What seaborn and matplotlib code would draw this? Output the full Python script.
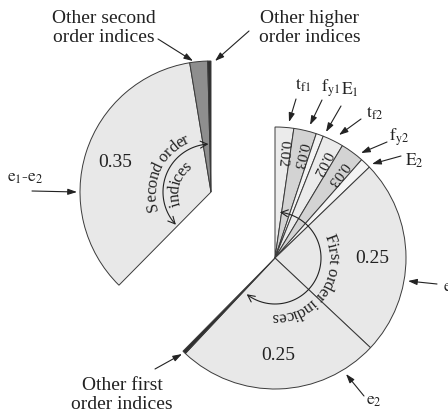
import numpy as np
import matplotlib
matplotlib.use('Agg')
import matplotlib.pyplot as plt
from matplotlib.patches import FancyArrowPatch
from matplotlib.path import Path
from matplotlib.font_manager import FontProperties, findfont
from matplotlib.ft2font import FT2Font
import seaborn as sns

# first order indices, clockwise from 12 o'clock (right pie)
first_names = ['t_f1', 'f_y1', 'E1', 't_f2', 'f_y2', 'E2', 'e1', 'e2', 'other first']
first_values = [0.023, 0.028, 0.009, 0.026, 0.029, 0.013, 0.242, 0.25, 0.004]
first_labels = ['0.02', '0.03', '', '0.02', '0.03', '', '0.25', '0.25', '']
first_colors = ['#ebebeb', '#d3d3d3', '#f4f4f4', '#ebebeb', '#d3d3d3', '#f4f4f4',
                '#e8e8e8', '#e8e8e8', '#2e2e2e']

# second order and higher (exploded left pie)
second_names = ['e1-e2', 'other second', 'other higher']
second_values = [0.35, 0.022, 0.004]
second_labels = ['0.35', '', '']
second_colors = ['#e8e8e8', '#8e8e8e', '#303030']

W, H = 448, 414
R = 131


def P(x, y):
    # picture pixels (y down) -> data coords
    return (x, H - y)


sns.set_theme(style='white')
plt.rcParams['font.family'] = ['Liberation Serif', 'DejaVu Serif']
plt.rcParams['mathtext.fontset'] = 'stix'

fig = plt.figure(figsize=(W / 100, H / 100), dpi=100)
ax = fig.add_axes([0, 0, 1, 1])

c1 = P(275, 259)
c2 = P(211, 193)
edge = dict(edgecolor='#3a3a3a', linewidth=0.7)

w1, _ = ax.pie(first_values, colors=first_colors, radius=R, center=c1,
               startangle=90, counterclock=False, normalize=False,
               wedgeprops=edge, frame=True)
start2 = 90 - 360 * sum(first_values)
w2, _ = ax.pie(second_values, colors=second_colors, radius=R, center=c2,
               startangle=start2, counterclock=False, normalize=False,
               wedgeprops=edge, frame=True)

ax.set_xlim(0, W)
ax.set_ylim(0, H)
ax.set_aspect('equal')
ax.axis('off')


def wedge_label(w, c, txt, frac, size, radial=False):
    mid = np.radians((w.theta1 + w.theta2) / 2)
    x = c[0] + frac * R * np.cos(mid)
    y = c[1] + frac * R * np.sin(mid)
    rot = np.degrees(mid) - 180 if radial else 0
    ax.text(x, y, txt, ha='center', va='center', rotation=rot,
            rotation_mode='anchor', fontsize=size, color='#222')


for i, (w, t) in enumerate(zip(w1, first_labels)):
    if not t:
        continue
    if first_values[i] < 0.1:
        wedge_label(w, c1, t, 0.81, 11, radial=True)
    else:
        wedge_label(w, c1, t, 0.74, 14)
for w, t in zip(w2, second_labels):
    if t:
        wedge_label(w, c2, t, 0.77, 14)


def advances(s, size):
    fp = FontProperties(family='Liberation Serif', size=size)
    font = FT2Font(findfont(fp))
    font.set_size(size, 100)
    out = []
    for ch in s:
        g = font.load_char(ord(ch))
        out.append(g.linearHoriAdvance / 65536)
    return np.array(out)


def arc_text(s, c, r, mid, size=12):
    adv = advances(s, size)
    L = adv.sum()
    pos = np.cumsum(adv) - adv / 2 - L / 2
    rb = r - 0.3 * size * 100 / 72
    for ch, p in zip(s, pos):
        th = mid + np.degrees(p / r)
        t = np.radians(th)
        ax.text(c[0] + rb * np.sin(t), c[1] + rb * np.cos(t), ch,
                rotation=-th, rotation_mode='anchor', ha='center',
                va='baseline', fontsize=size, color='#222')


def arc_arrow(c, r, a0, a1):
    th = np.radians(np.linspace(a0, a1, 80))
    pts = np.column_stack([c[0] + r * np.sin(th), c[1] + r * np.cos(th)])
    ax.add_patch(FancyArrowPatch(path=Path(pts),
                                 arrowstyle='<->,head_length=5,head_width=2.5',
                                 lw=0.8, color='#222'))


arc_text('First order indices', c1, 59, 124, 12)
arc_arrow(c1, 46, 6, 218)
arc_text('Second order', c2, 60, 295, 12)
arc_text('indices', c2, 37, 286, 12)
arc_arrow(c2, 48, 227, 357)


def pointer(tail, tip):
    ax.annotate('', xy=P(*tip), xytext=P(*tail),
                arrowprops=dict(arrowstyle='-|>,head_length=0.6,head_width=0.2',
                                mutation_scale=9, lw=0.8, color='#222',
                                shrinkA=0, shrinkB=0))


callouts = [
    ('Other second\norder indices', (104, 28), (158, 40), (193, 62), 14),
    ('Other higher\norder indices', (310, 28), (249, 32), (215, 62), 14),
    (r'$\mathrm{e}_1$-$\mathrm{e}_2$', (25, 178), (32, 192), (77, 193), 12.5),
    (r'$\mathrm{t}_{\mathrm{f1}}$', (303, 85), (296, 100), (289, 123), 12.5),
    (r'$\mathrm{f}_{\mathrm{y1}}$', (331, 88), (322, 101), (310, 126), 12.5),
    (r'$\mathrm{E}_1$', (350, 90), (341, 107), (326, 133), 12.5),
    (r'$\mathrm{t}_{\mathrm{f2}}$', (375, 113), (361, 120), (339, 136), 12.5),
    (r'$\mathrm{f}_{\mathrm{y2}}$', (399, 137), (387, 143), (361, 154), 12.5),
    (r'$\mathrm{E}_2$', (414, 161), (401, 157), (372, 165), 12.5),
    (r'$\mathrm{e}_1$', (450, 288), (437, 285), (408, 282), 12.5),
    (r'$\mathrm{e}_2$', (374, 401), (364, 397), (346, 375), 12.5),
    ('Other first\norder indices', (122, 395), (155, 370), (182, 355), 14),
]
for txt, tp, tail, tip, fs in callouts:
    ax.text(*P(*tp), txt, ha='center', va='center', fontsize=fs,
            linespacing=1.1, color='#222')
    pointer(tail, tip)

fig.savefig('out.png', dpi=100)
plt.close(fig)
